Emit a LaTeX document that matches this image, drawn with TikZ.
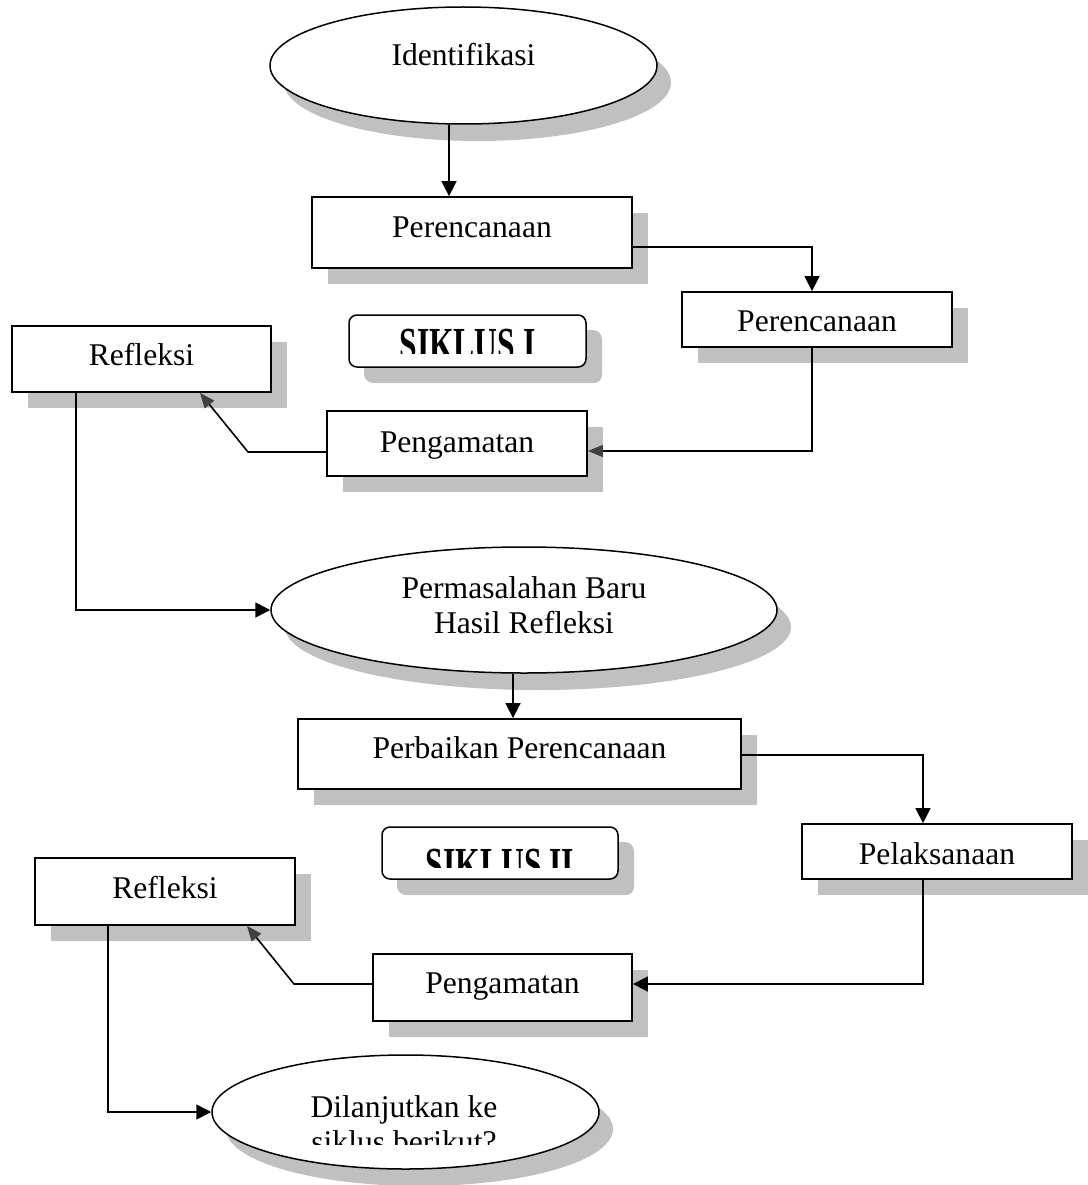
\documentclass[tikz,border=0pt]{standalone}
\usepackage{fontspec}
\setmainfont{Liberation Serif}
\usetikzlibrary{shapes.geometric,shadows,arrows.meta,calc}
\definecolor{shadowgray}{RGB}{192,192,192}
\definecolor{tipgray}{RGB}{64,64,64}
\newcommand{\blshift}[2]{\raisebox{-#1pt}[0pt][0pt]{#2}}
\begin{document}
\begin{tikzpicture}[x=1pt,y=-1pt,
  every node/.style={font=\fontsize{31.6pt}{35pt}\selectfont},
  flowbox/.style={draw, line width=1.8pt, fill=white, rectangle, inner sep=0pt,
    drop shadow={shadow xshift=16pt, shadow yshift=-16pt, fill=shadowgray, opacity=1}},
  sbox/.style={flowbox, rounded corners=8pt, line width=1.5pt,
    drop shadow={shadow xshift=15pt, shadow yshift=-15pt, fill=shadowgray, opacity=1}},
  ellbox/.style={draw, line width=1.5pt, fill=white, ellipse, inner sep=0pt,
    drop shadow={shadow xshift=14pt, shadow yshift=-17pt, fill=shadowgray, opacity=1}},
  plain/.style={inner sep=0pt},
  conn/.style={line width=1.6pt},
  tipk/.style={-{Triangle[width=15pt,length=15pt]}},
  tipg/.style={-{Triangle[width=12pt,length=15pt,color=tipgray]}}
]
\useasboundingbox (0,0) rectangle (1087,1185);

% nodes
\node[ellbox, minimum width=387pt, minimum height=117pt] (e1) at (463.5,65.5) {\blshift{0}{Identifikasi}};
\node[flowbox, minimum width=320pt, minimum height=71pt] (p1) at (472,232.5) {\blshift{5}{Perencanaan}};
\node[flowbox, minimum width=270pt, minimum height=55pt] (p2) at (817,319.5) {\blshift{11.5}{Perencanaan}};
\node[sbox, minimum width=237pt, minimum height=52pt] (s1) at (467.5,341) {};
\node[flowbox, minimum width=259pt, minimum height=66pt] (r1) at (141.5,359) {\blshift{6}{Refleksi}};
\node[flowbox, minimum width=260pt, minimum height=65pt] (g1) at (457,443.5) {\blshift{8.5}{Pengamatan}};
\node[ellbox, minimum width=506pt, minimum height=126pt] (e2) at (524,610)
  {\blshift{-12}{\begin{tabular}[t]{@{}c@{}}Permasalahan Baru\\Hasil Refleksi\end{tabular}}};
\node[flowbox, minimum width=443pt, minimum height=70pt] (pp) at (519.5,754) {\blshift{4}{Perbaikan Perencanaan}};
\node[sbox, minimum width=236pt, minimum height=52pt] (s2) at (500,853) {};
\node[flowbox, minimum width=270pt, minimum height=55pt] (pl) at (937,851.5) {\blshift{12.5}{Pelaksanaan}};
\node[flowbox, minimum width=260pt, minimum height=67pt] (r2) at (165,891.5) {\blshift{6.5}{Refleksi}};
\node[flowbox, minimum width=259pt, minimum height=67pt] (g2) at (502.5,987.5) {\blshift{5.5}{Pengamatan}};
\node[ellbox, minimum width=387pt, minimum height=114pt] (e3) at (405.5,1112) {};

% clipped texts
\begin{scope}
  \clip (s1.north west) rectangle ([yshift=14pt]s1.south east);
  \node[plain] (s1t) at (s1.center) {\blshift{19}{\scalebox{1}[1.5]{\bfseries SIKLUS I}}};
\end{scope}
\begin{scope}
  \clip (s2.north west) rectangle ([yshift=12pt]s2.south east);
  \node[plain] (s2t) at (s2.center) {\blshift{27}{\scalebox{1}[1.5]{\bfseries SIKLUS II}}};
\end{scope}
\begin{scope}
  \clip (e3.north -| e3.west) rectangle ([yshift=25pt]e3.south -| e3.east);
  \node[plain] (e3t) at ([xshift=-1.5pt]e3.center)
    {\blshift{5}{\begin{tabular}[t]{@{}c@{}}Dilanjutkan ke\\siklus berikut?\end{tabular}}};
\end{scope}

% connector coordinates
\coordinate (a1) at ([xshift=-14.5pt]e1.south);
\coordinate (a2) at ([yshift=-14.5pt]p1.east);
\coordinate (a3) at ([xshift=-5pt]p2.north);
\coordinate (a4) at ([xshift=-5pt]p2.south);
\coordinate (a5) at ([yshift=-7.5pt]g1.east);
\coordinate (a6) at ([yshift=-8.5pt]g1.west);
\coordinate (b1) at (248,452);
\coordinate (a7) at ([xshift=58.5pt]r1.south);
\coordinate (a8) at ([xshift=-65.5pt]r1.south);
\coordinate (a9) at ([xshift=-11pt]e2.south);
\coordinate (a10) at ([yshift=-1pt]pp.east);
\coordinate (a11) at ([xshift=-14pt]pl.north);
\coordinate (a12) at ([xshift=-14pt]pl.south);
\coordinate (a13) at ([yshift=3.5pt]g2.east);
\coordinate (a14) at ([yshift=3.5pt]g2.west);
\coordinate (b2) at (294,984);
\coordinate (a15) at ([xshift=82pt]r2.south);
\coordinate (a16) at ([xshift=-57pt]r2.south);

% connectors
\draw[conn,tipk] (a1) -- (a1 |- p1.north);
\draw[conn,tipk] (a2) -| (a3);
\draw[conn,tipg] (a4) |- (a5);
\draw[conn,tipg] (a6) -- (b1) -- (a7);
\draw[conn,tipk] (a8) |- (e2.west);
\draw[conn,tipk] (a9) -- (a9 |- pp.north);
\draw[conn,tipk] (a10) -| (a11);
\draw[conn,tipk] (a12) |- (a13);
\draw[conn,tipg] (a14) -- (b2) -- (a15);
\draw[conn,tipk] (a16) |- (e3.west);
\end{tikzpicture}
\end{document}
